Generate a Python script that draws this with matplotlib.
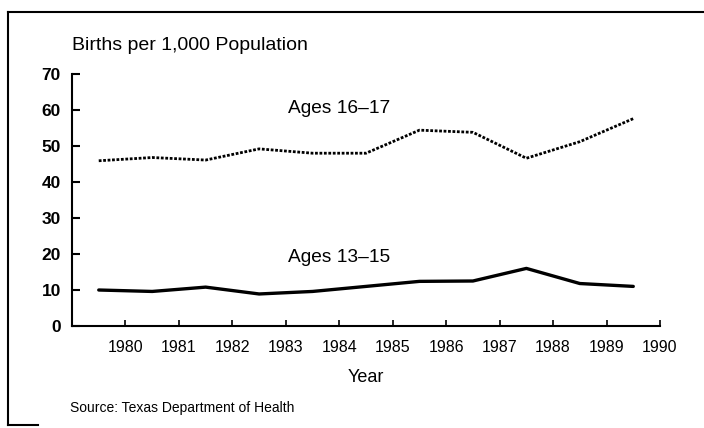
import matplotlib.pyplot as plt
from matplotlib.lines import Line2D

plt.rcParams['font.family'] = ['Liberation Sans', 'DejaVu Sans']

years = [1979, 1980, 1981, 1982, 1983, 1984, 1985, 1986, 1987, 1988, 1989]
ages_16_17 = [45.9, 46.8, 46.1, 49.2, 48.0, 48.0, 54.4, 53.8, 46.6, 51.2, 57.6]
ages_13_15 = [10.0, 9.6, 10.8, 8.9, 9.6, 11.0, 12.4, 12.5, 16.0, 11.8, 11.0]
tick_years = [1980, 1981, 1982, 1983, 1984, 1985, 1986, 1987, 1988, 1989, 1990]
y_ticks = [0, 10, 20, 30, 40, 50, 60, 70]

fig = plt.figure(figsize=(7.04, 4.28), dpi=100)
ax = fig.add_axes([0.1023, 0.2383, 0.8352, 0.5888])

# points sit mid-year between the tick marks
xs = [y + 0.5 for y in years]
ax.plot(xs, ages_16_17, color='black', lw=2.0, linestyle=(0, (1, 0.6)))
ax.plot(xs, ages_13_15, color='black', lw=2.4, solid_capstyle='round')

ax.set_xlim(1979, 1990)
ax.set_ylim(0, 70)
ax.set_xticks(tick_years)
ax.set_xticklabels([str(t) for t in tick_years], fontsize=11.5)
ax.set_yticks(y_ticks)
ax.set_yticklabels([str(t) for t in y_ticks], fontsize=12.5, fontweight='bold')
ax.tick_params(axis='y', direction='in', length=6, width=1.5, pad=8)
ax.tick_params(axis='x', direction='in', length=4, width=1.2, pad=10)
for s in ['top', 'right']:
    ax.spines[s].set_visible(False)
for s in ['left', 'bottom']:
    ax.spines[s].set_linewidth(1.5)

ax.text(1984.0, 60.5, 'Ages 16\u201317', fontsize=13.8, ha='center', va='center')
ax.text(1984.0, 19.0, 'Ages 13\u201315', fontsize=13.8, ha='center', va='center')

fig.text(72 / 704, 1 - 45 / 428, 'Births per 1,000 Population', fontsize=14,
         ha='left', va='center')
fig.text(366 / 704, 1 - 377 / 428, 'Year', fontsize=13, ha='center', va='center')
fig.text(70 / 704, 1 - 408 / 428, 'Source: Texas Department of Health', fontsize=10,
         ha='left', va='center')

# scanned page frame
fig.add_artist(Line2D([8 / 704, 1.0], [1 - 12 / 428, 1 - 12 / 428], color='black', lw=1.5))
fig.add_artist(Line2D([8 / 704, 8 / 704], [1 - 12 / 428, 1 - 425 / 428], color='black', lw=1.5))
fig.add_artist(Line2D([8 / 704, 38 / 704], [1 - 425 / 428, 1 - 425 / 428], color='black', lw=1.5))

fig.savefig('out.png', dpi=100)
